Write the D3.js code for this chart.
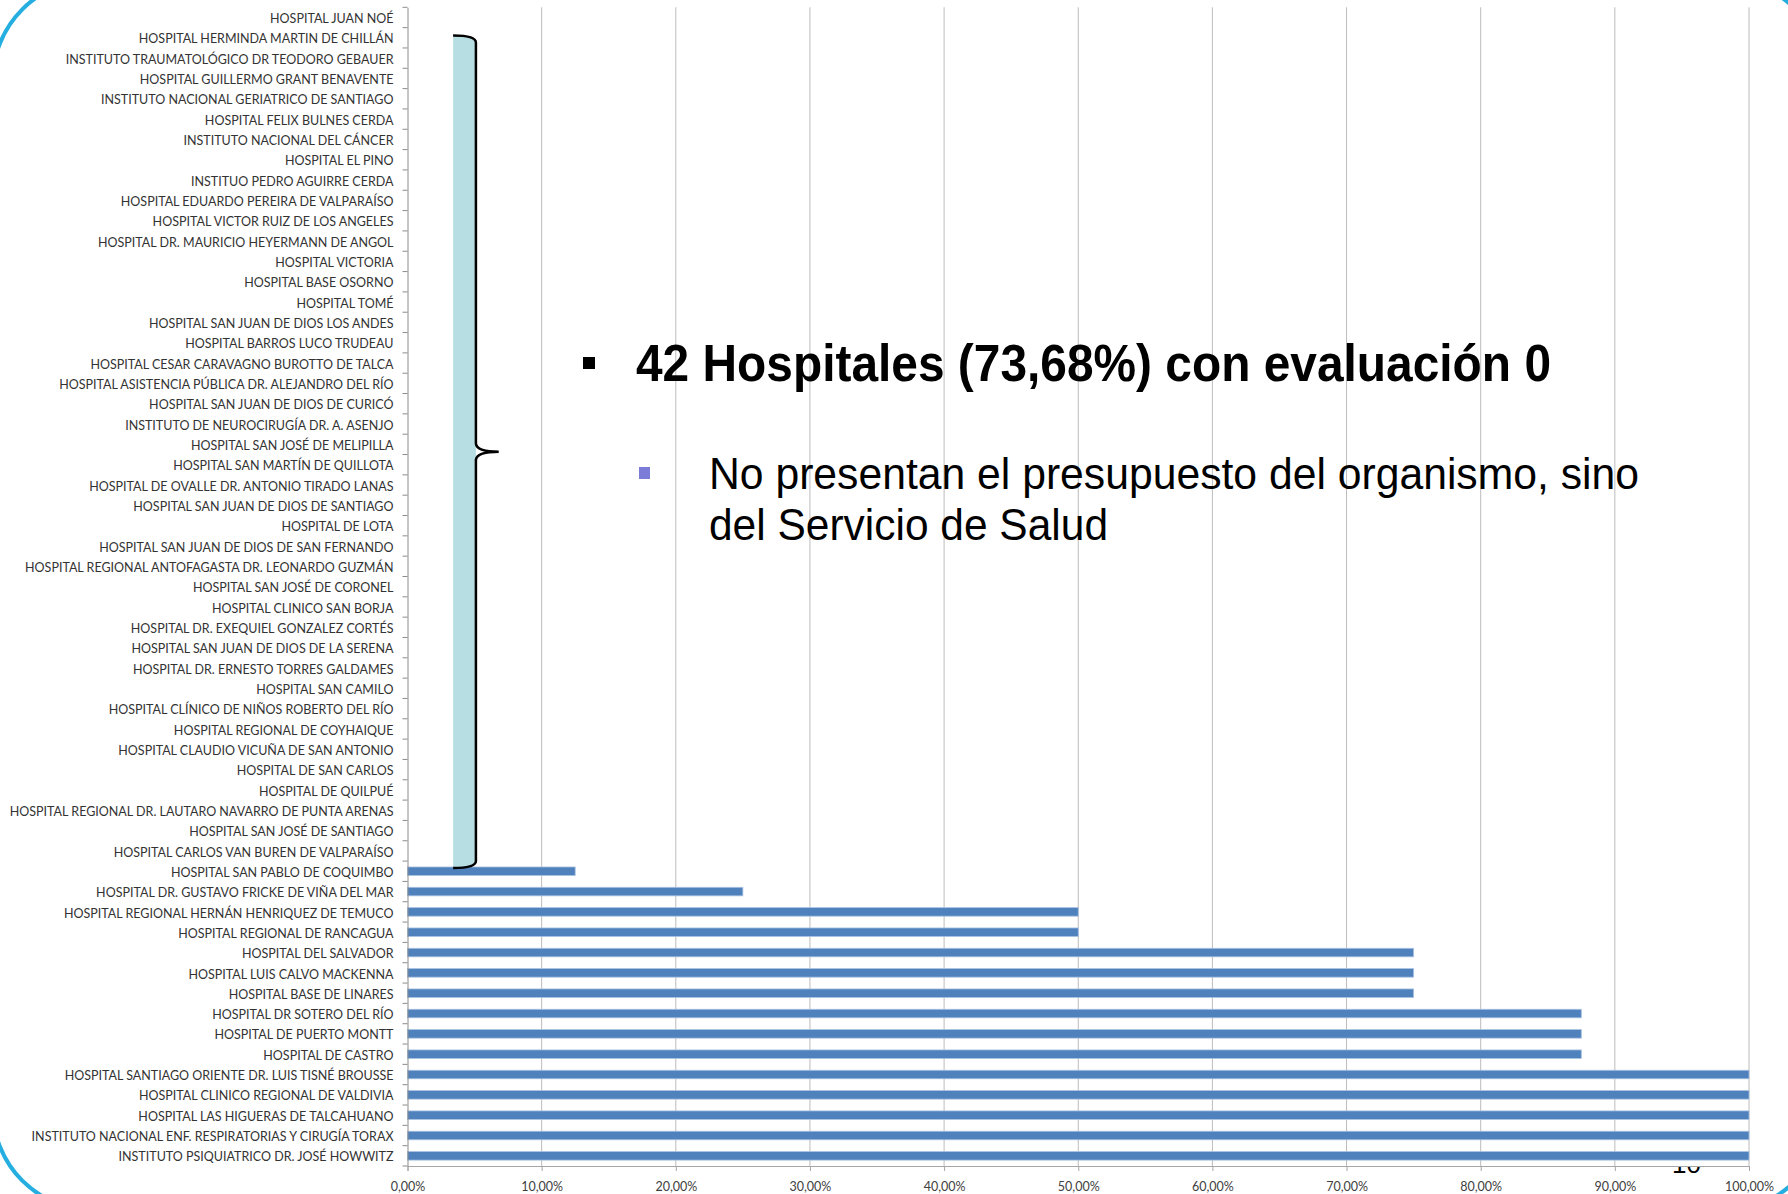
<!DOCTYPE html>
<html>
<head>
<meta charset="utf-8">
<script src="https://cdn.jsdelivr.net/npm/d3@7"></script>
<style>
  body { margin: 0; background: #fff; }
  svg { display: block; }
</style>
</head>
<body>
<div id="chart"></div>
<script>
var hospitals = [
    "HOSPITAL JUAN NOÉ",
    "HOSPITAL HERMINDA MARTIN DE CHILLÁN",
    "INSTITUTO TRAUMATOLÓGICO DR TEODORO GEBAUER",
    "HOSPITAL GUILLERMO GRANT BENAVENTE",
    "INSTITUTO NACIONAL GERIATRICO  DE SANTIAGO",
    "HOSPITAL FELIX BULNES CERDA",
    "INSTITUTO NACIONAL DEL CÁNCER",
    "HOSPITAL EL PINO",
    "INSTITUO PEDRO AGUIRRE  CERDA",
    "HOSPITAL EDUARDO PEREIRA  DE VALPARAÍSO",
    "HOSPITAL VICTOR RUIZ DE LOS ANGELES",
    "HOSPITAL DR. MAURICIO HEYERMANN DE ANGOL",
    "HOSPITAL VICTORIA",
    "HOSPITAL BASE OSORNO",
    "HOSPITAL TOMÉ",
    "HOSPITAL SAN JUAN DE DIOS LOS ANDES",
    "HOSPITAL BARROS LUCO TRUDEAU",
    "HOSPITAL CESAR CARAVAGNO BUROTTO DE TALCA",
    "HOSPITAL ASISTENCIA PÚBLICA DR. ALEJANDRO DEL RÍO",
    "HOSPITAL SAN JUAN DE DIOS DE CURICÓ",
    "INSTITUTO DE NEUROCIRUGÍA DR. A. ASENJO",
    "HOSPITAL SAN JOSÉ DE MELIPILLA",
    "HOSPITAL SAN MARTÍN DE QUILLOTA",
    "HOSPITAL DE OVALLE DR. ANTONIO TIRADO LANAS",
    "HOSPITAL SAN JUAN DE DIOS DE SANTIAGO",
    "HOSPITAL DE LOTA",
    "HOSPITAL SAN JUAN DE DIOS DE SAN FERNANDO",
    "HOSPITAL REGIONAL ANTOFAGASTA DR.  LEONARDO GUZMÁN",
    "HOSPITAL  SAN JOSÉ DE CORONEL",
    "HOSPITAL CLINICO SAN BORJA",
    "HOSPITAL DR. EXEQUIEL GONZALEZ CORTÉS",
    "HOSPITAL SAN JUAN DE DIOS DE LA SERENA",
    "HOSPITAL DR. ERNESTO TORRES GALDAMES",
    "HOSPITAL SAN CAMILO",
    "HOSPITAL CLÍNICO DE NIÑOS ROBERTO  DEL RÍO",
    "HOSPITAL REGIONAL DE COYHAIQUE",
    "HOSPITAL CLAUDIO VICUÑA DE SAN ANTONIO",
    "HOSPITAL  DE SAN CARLOS",
    "HOSPITAL DE QUILPUÉ",
    "HOSPITAL REGIONAL DR. LAUTARO NAVARRO DE PUNTA ARENAS",
    "HOSPITAL SAN JOSÉ DE SANTIAGO",
    "HOSPITAL CARLOS VAN BUREN DE VALPARAÍSO",
    "HOSPITAL SAN PABLO DE COQUIMBO",
    "HOSPITAL DR. GUSTAVO FRICKE DE VIÑA DEL MAR",
    "HOSPITAL REGIONAL HERNÁN HENRIQUEZ DE  TEMUCO",
    "HOSPITAL REGIONAL DE RANCAGUA",
    "HOSPITAL DEL SALVADOR",
    "HOSPITAL LUIS CALVO MACKENNA",
    "HOSPITAL BASE DE LINARES",
    "HOSPITAL DR SOTERO DEL RÍO",
    "HOSPITAL DE PUERTO MONTT",
    "HOSPITAL DE CASTRO",
    "HOSPITAL SANTIAGO ORIENTE DR. LUIS TISNÉ BROUSSE",
    "HOSPITAL CLINICO REGIONAL DE VALDIVIA",
    "HOSPITAL LAS HIGUERAS DE TALCAHUANO",
    "INSTITUTO NACIONAL ENF. RESPIRATORIAS Y CIRUGÍA TORAX",
    "INSTITUTO PSIQUIATRICO DR. JOSÉ HOWWITZ"
];

// evaluación (fracción), mismo orden que hospitals
var scores = [
    0, 0, 0, 0, 0, 0, 0, 0, 0, 0,
    0, 0, 0, 0, 0, 0, 0, 0, 0, 0,
    0, 0, 0, 0, 0, 0, 0, 0, 0, 0,
    0, 0, 0, 0, 0, 0, 0, 0, 0, 0,
    0, 0,
    0.125, 0.25, 0.5, 0.5, 0.75, 0.75, 0.75, 0.875, 0.875, 0.875,
    1, 1, 1, 1, 1
];

var xTicks = [0, 0.1, 0.2, 0.3, 0.4, 0.5, 0.6, 0.7, 0.8, 0.9, 1];

var headline = "42 Hospitales (73,68%) con evaluación 0";
var noteLines = ["No presentan el presupuesto del organismo, sino", "del Servicio de Salud"];
var slideNumber = "10";

var W = 1788, H = 1194;
var margin = {top: 7.3, right: 39, bottom: 28, left: 407.5},
    width = W - margin.left - margin.right,
    height = H - margin.top - margin.bottom;

var svg = d3.select("#chart").append("svg")
    .attr("width", W)
    .attr("height", H);

var data = hospitals.map(function(h, i){ return {name: h, value: scores[i]}; });

var x = d3.scaleLinear()
    .domain([0, 1])
    .range([margin.left, margin.left + width]);

var y = d3.scaleBand()
    .domain(hospitals)
    .range([margin.top, margin.top + height])
    .paddingInner(0.58)
    .paddingOuter(0.29);

var labelFont = "Lato, 'Open Sans', sans-serif";

// slide number, mostly hidden behind the plot area
svg.append("text")
    .attr("x", 1672)
    .attr("y", 1173)
    .style("font-family", "'Liberation Sans', Arial, sans-serif")
    .style("font-size", "26px")
    .attr("fill", "#000")
    .text(slideNumber);

svg.append("rect")
    .attr("x", margin.left)
    .attr("y", 0)
    .attr("width", width)
    .attr("height", margin.top + height)
    .attr("fill", "#fff");

// value axis
svg.append("g")
    .attr("transform", "translate(0," + (margin.top + height) + ")")
    .call(d3.axisBottom(x).tickValues(xTicks).tickSize(5).tickFormat(function(d){
        return d3.format(".2f")(d * 100).replace(".", ",") + "%";
    }))
    .call(function(g){
        g.select(".domain").attr("stroke", "#a6a6a6");
        g.selectAll(".tick line").attr("stroke", "#a6a6a6");
        g.selectAll(".tick text")
            .attr("y", 16)
            .style("font-family", labelFont)
            .style("font-size", "12.5px")
            .attr("fill", "#404040");
    });

// gridlines
svg.append("g")
    .selectAll("line")
    .data(xTicks.slice(1))
    .join("line")
    .attr("x1", function(d){ return x(d); })
    .attr("x2", function(d){ return x(d); })
    .attr("y1", margin.top)
    .attr("y2", margin.top + height)
    .attr("stroke", "#bcbcbc")
    .attr("stroke-width", 1);

// bars
svg.append("g")
    .selectAll("rect")
    .data(data.filter(function(d){ return d.value > 0; }))
    .join("rect")
    .attr("x", x(0))
    .attr("y", function(d){ return y(d.name); })
    .attr("width", function(d){ return x(d.value) - x(0); })
    .attr("height", y.bandwidth())
    .attr("fill", "#4f81bd")
    .attr("stroke", "#a9c2e2")
    .attr("stroke-width", 0.8);

// category axis with ticks between categories
var yAxis = svg.append("g")
    .attr("transform", "translate(" + margin.left + ",0)")
    .call(d3.axisLeft(y).tickSize(0).tickPadding(14));
yAxis.select(".domain").attr("stroke", "#8c8c8c");
yAxis.selectAll(".tick text")
    .attr("dy", "0.45em")
    .style("font-family", labelFont)
    .style("font-size", "12.5px")
    .attr("fill", "#333");

var step = y.step();
var bounds = hospitals.map(function(h){ return y(h) - step * 0.29; });
bounds.push(margin.top + height);
yAxis.append("g")
    .selectAll("line")
    .data(bounds)
    .join("line")
    .attr("x1", -5)
    .attr("x2", 0)
    .attr("y1", function(d){ return d; })
    .attr("y2", function(d){ return d; })
    .attr("stroke", "#8c8c8c");

// brace marking the hospitals with 0
var zeroNames = data.filter(function(d){ return d.value === 0; }).map(function(d){ return d.name; });
var bTop = y(zeroNames[1]) + 2;
var bBot = y(hospitals[zeroNames.length]) + 1;
var bx0 = x(0.034), bx1 = x(0.051), bTip = x(0.068);
var bMid = (bTop + bBot) / 2;

svg.append("path")
    .attr("d", "M" + bx0 + "," + bTop +
        " Q" + bx1 + "," + bTop + " " + bx1 + "," + (bTop + 7) +
        " L" + bx1 + "," + (bBot - 7) +
        " Q" + bx1 + "," + bBot + " " + bx0 + "," + bBot + " Z")
    .attr("fill", "#b7dfe3");

svg.append("path")
    .attr("d", "M" + bx0 + "," + bTop +
        " Q" + bx1 + "," + bTop + " " + bx1 + "," + (bTop + 7) +
        " L" + bx1 + "," + (bMid - 8) +
        " Q" + (bx1 + 1) + "," + bMid + " " + bTip + "," + bMid +
        " Q" + (bx1 + 1) + "," + bMid + " " + bx1 + "," + (bMid + 8) +
        " L" + bx1 + "," + (bBot - 7) +
        " Q" + bx1 + "," + bBot + " " + bx0 + "," + bBot)
    .attr("fill", "none")
    .attr("stroke", "#000")
    .attr("stroke-width", 2.5);

// text box
svg.append("rect")
    .attr("x", 583)
    .attr("y", 357)
    .attr("width", 12)
    .attr("height", 12)
    .attr("fill", "#000");

svg.append("text")
    .attr("x", 636)
    .attr("y", 381)
    .attr("textLength", 915)
    .attr("lengthAdjust", "spacingAndGlyphs")
    .style("font-family", "'Liberation Sans', Arial, sans-serif")
    .style("font-weight", "bold")
    .style("font-size", "52px")
    .attr("fill", "#000")
    .text(headline);

svg.append("rect")
    .attr("x", 639)
    .attr("y", 467)
    .attr("width", 11)
    .attr("height", 12)
    .attr("fill", "#7b7bd8");

svg.selectAll(".note")
    .data(noteLines)
    .join("text")
    .attr("class", "note")
    .attr("x", 709)
    .attr("y", function(d, i){ return 489 + i * 51; })
    .attr("textLength", function(d, i){ return i === 0 ? 930 : 399; })
    .attr("lengthAdjust", "spacingAndGlyphs")
    .style("font-family", "'Liberation Sans', Arial, sans-serif")
    .style("font-size", "44px")
    .attr("fill", "#000")
    .text(function(d){ return d; });

// slide frame
svg.append("rect")
    .attr("x", -7)
    .attr("y", -20)
    .attr("width", 1832)
    .attr("height", 1230)
    .attr("rx", 100)
    .attr("fill", "none")
    .attr("stroke", "#25aee0")
    .attr("stroke-width", 4);
</script>
</body>
</html>
